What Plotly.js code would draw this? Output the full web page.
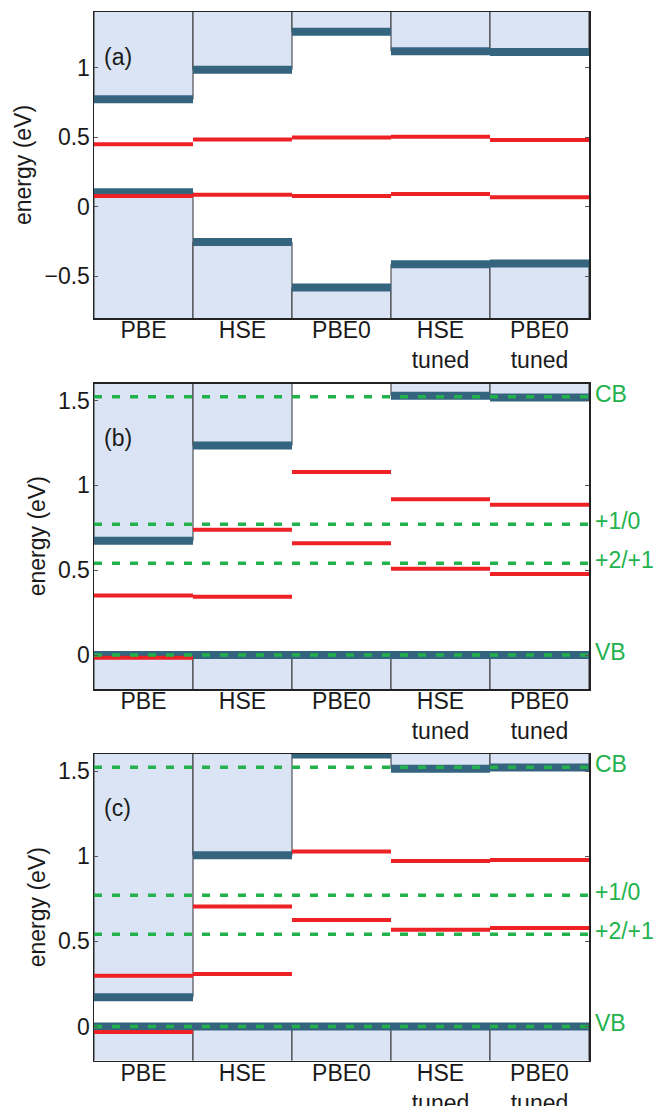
<!DOCTYPE html>
<html>
<head>
<meta charset="utf-8">
<script src="https://cdn.plot.ly/plotly-3.0.1.min.js"></script>
<style>html,body{margin:0;padding:0;background:#fff;}#chart{width:656px;height:1106px;}</style>
</head>
<body>
<div id="chart"></div>
<script>
// ---- data ----
const categories = ['PBE', 'HSE', 'PBE0', 'HSE<br>tuned', 'PBE0<br>tuned'];

// panel (a)
const cbmA = [0.772, 0.985, 1.258, 1.118, 1.113];
const vbmA = [0.104, -0.254, -0.580, -0.414, -0.409];
const levelA1 = [0.450, 0.484, 0.498, 0.503, 0.479];
const levelA2 = [0.077, 0.087, 0.077, 0.092, 0.068];

// panel (b)
const cbmB = [0.673, 1.235, null, 1.528, 1.518];
const vbmB = [0, 0, 0, 0, 0];
const levelB1 = [0.351, 0.738, 1.078, 0.918, 0.886];
const levelB2 = [-0.016, 0.343, 0.659, 0.509, 0.478];

// panel (c)
const cbmC = [0.172, 1.006, 1.597, 1.513, 1.521];
const vbmC = [0, 0, 0, 0, 0];
const levelC1 = [0.298, 0.704, 1.028, 0.972, 0.978];
const levelC2 = [-0.032, 0.308, 0.625, 0.568, 0.578];

// experimental transition levels (panels b, c)
const transitionLevels = [1.522, 0.770, 0.541, 0.0];
const transitionLabels = ['CB', '+1/0', '+2/+1', 'VB'];

const panelLabels = ['(a)', '(b)', '(c)'];
const yRanges = [[-0.8, 1.4], [-0.2, 1.6], [-0.2, 1.6]];

// ---- styles ----
const SHADE = '#dae4f4';
const DARK = '#35647e';
const RED = '#ee2125';
const GREEN = '#22b24c';
const FONT = 'Liberation Sans, Arial, Helvetica, sans-serif';
const FS = 23;

const panels = [
  {cbm: cbmA, vbm: vbmA, levels: [levelA1, levelA2], trans: false, labelY: 1.08},
  {cbm: cbmB, vbm: vbmB, levels: [levelB1, levelB2], trans: true, labelY: 1.28},
  {cbm: cbmC, vbm: vbmC, levels: [levelC1, levelC2], trans: true, labelY: 1.28}
];

const W = 656, H = 1106;
const mar = {l: 94, r: 67, t: 12, b: 45};
const plotH = H - mar.t - mar.b;
const pix = [[12, 318], [383.5, 689], [754, 1060.5]];
const domains = pix.map(p => [1 - (p[1] - mar.t) / plotH, 1 - (p[0] - mar.t) / plotH]);

function segs(vals) {
  const x = [], y = [];
  vals.forEach((v, j) => {
    if (v === null) return;
    x.push(j, j + 1, null);
    y.push(v, v, null);
  });
  return {x, y};
}

const traces = [];
const shapes = [];
const annotations = [];
const layout = {
  width: W, height: H,
  margin: mar,
  paper_bgcolor: '#fff', plot_bgcolor: '#fff',
  showlegend: false,
  hovermode: false,
  font: {family: FONT, size: FS, color: '#1a1a1a'}
};

panels.forEach((p, i) => {
  const sfx = i === 0 ? '' : String(i + 1);
  const xa = 'x' + sfx, ya = 'y' + sfx;
  categories.forEach((c, j) => {
    if (p.cbm[j] !== null) {
      shapes.push({type: 'rect', xref: xa, yref: ya, x0: j, x1: j + 1, y0: p.cbm[j], y1: 50,
        fillcolor: SHADE, line: {color: '#333', width: 1}, layer: 'below'});
    }
    if (p.vbm[j] !== null) {
      shapes.push({type: 'rect', xref: xa, yref: ya, x0: j, x1: j + 1, y0: -50, y1: p.vbm[j],
        fillcolor: SHADE, line: {color: '#333', width: 1}, layer: 'below'});
    }
  });
  const c = segs(p.cbm), v = segs(p.vbm);
  traces.push({type: 'scatter', mode: 'lines', xaxis: xa, yaxis: ya,
    x: c.x.concat(v.x), y: c.y.concat(v.y),
    line: {color: DARK, width: 8}, connectgaps: false});
  p.levels.forEach(lv => {
    const s = segs(lv);
    traces.push({type: 'scatter', mode: 'lines', xaxis: xa, yaxis: ya, x: s.x, y: s.y,
      line: {color: RED, width: 4}, connectgaps: false});
  });
  if (p.trans) {
    transitionLevels.forEach((t, k) => {
      traces.push({type: 'scatter', mode: 'lines', xaxis: xa, yaxis: ya,
        x: [0, categories.length], y: [t, t],
        line: {color: GREEN, width: 3.5, dash: '8px,10px'}});
      annotations.push({xref: xa, yref: ya, x: categories.length, y: t, text: transitionLabels[k],
        showarrow: false, xanchor: 'left', yanchor: 'middle', xshift: 4, yshift: 3,
        font: {family: FONT, size: FS, color: GREEN}});
    });
  }
  annotations.push({xref: xa, yref: ya, x: 0.08, y: p.labelY, text: panelLabels[i],
    showarrow: false, xanchor: 'left', yanchor: 'middle',
    font: {family: FONT, size: FS, color: '#1a1a1a'}});

  layout['xaxis' + sfx] = {
    domain: [0, 1], anchor: ya, range: [0, categories.length],
    tickmode: 'array', tickvals: categories.map((_, j) => j + 0.5), ticktext: categories,
    ticks: '', showgrid: false, zeroline: false, ticklabelstandoff: -9,
    showline: true, mirror: true, linecolor: '#222', linewidth: 1.5,
    tickfont: {family: FONT, size: FS, color: '#1a1a1a'}, fixedrange: true
  };
  layout['yaxis' + sfx] = {
    domain: domains[i], anchor: xa, range: yRanges[i], dtick: 0.5, tick0: 0,
    ticks: 'inside', ticklen: 4, tickcolor: '#555', tickwidth: 1,
    showgrid: false, zeroline: false, ticklabelstandoff: -2,
    showline: true, mirror: 'ticks', linecolor: '#222', linewidth: 1.5,
    tickfont: {family: FONT, size: FS, color: '#1a1a1a'},
    title: {text: 'energy (eV)', standoff: 6, font: {family: FONT, size: FS, color: '#1a1a1a'}},
    fixedrange: true
  };
});

layout.shapes = shapes;
layout.annotations = annotations;

Plotly.newPlot('chart', traces, layout, {staticPlot: true, displayModeBar: false});
</script>
</body>
</html>
